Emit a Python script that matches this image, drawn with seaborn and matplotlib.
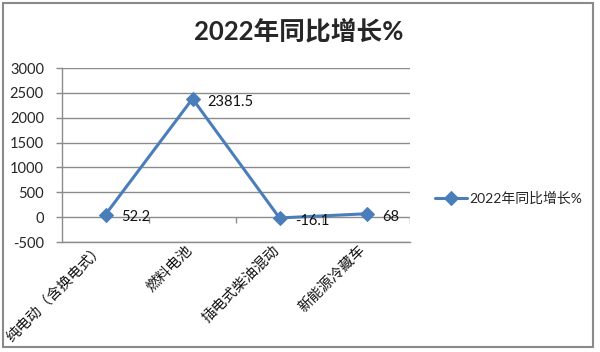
import matplotlib
matplotlib.use("Agg")
import matplotlib.pyplot as plt
import seaborn as sns
import pandas as pd
from matplotlib.patches import Rectangle

categories = ["纯电动（含换电式）", "燃料电池", "插电式柴油混动", "新能源冷藏车"]
values = [52.2, 2381.5, -16.1, 68]
labels = ["52.2", "2381.5", "-16.1", "68"]
series_name = "2022年同比增长%"
title = "2022年同比增长%"
yticks = [-500, 0, 500, 1000, 1500, 2000, 2500, 3000]

sns.set_style("white")
plt.rcParams["font.family"] = ["Lato", "Noto Sans CJK SC", "DejaVu Sans"]

df = pd.DataFrame({"cat": categories, "val": values, "series": series_name})

fig = plt.figure(figsize=(6.0, 3.52), dpi=100)
ax = fig.add_axes([62 / 600, 1 - 242 / 352, 348 / 600, 174 / 352])

blue = "#4A7EBB"
grid_c = "#8C8C8C"

sns.lineplot(data=df, x="cat", y="val", hue="series", palette=[blue], marker="D",
             markersize=7, linewidth=2.2, markeredgecolor=blue, sort=False, ax=ax,
             legend=True)

ax.set_xlim(-0.5, len(categories) - 0.5)
ax.set_ylim(-500, 3000)
ax.set_yticks(yticks)
ax.set_yticklabels([str(t) for t in yticks], fontsize=10.5)
for t in yticks:
    ax.axhline(t, color=grid_c, lw=1.0, zorder=0)

# category boundary ticks on the zero line
bounds = [i + 0.5 for i in range(len(categories))]
ax.vlines(bounds, -110, 0, color=grid_c, lw=1.0, zorder=0)

ax.set_xticks(range(len(categories)))
ax.set_xticklabels([])
for i, c in enumerate(categories):
    ax.annotate(c, xy=(i, -500), xycoords="data", xytext=(-2, -4),
                textcoords="offset points", rotation=45, rotation_mode="anchor",
                ha="right", va="center", fontsize=10.5,
                family=["Noto Sans CJK SC", "DejaVu Sans"], color="#111111")

ax.tick_params(axis="x", length=0)
ax.tick_params(axis="y", length=4, width=1.0, color=grid_c, direction="out", pad=9)
ax.yaxis.set_ticks_position("left")

for side in ["top", "right"]:
    ax.spines[side].set_visible(False)
ax.spines["left"].set_color(grid_c)
ax.spines["bottom"].set_color(grid_c)
ax.spines["left"].set_linewidth(1.0)
ax.spines["bottom"].set_linewidth(1.0)
ax.set_xlabel("")
ax.set_ylabel("")

for i, (v, lab) in enumerate(zip(values, labels)):
    ax.annotate(lab, xy=(i, v), xytext=(11, -2), textcoords="offset points",
                ha="left", va="center", fontsize=10.5, color="#111111")

leg = ax.legend(loc="center left", bbox_to_anchor=(1.035, 0.253), frameon=False,
                handlelength=2.3, handletextpad=0.2,
                prop={"family": ["Lato", "Noto Sans CJK SC"], "size": 10})

fig.text(0.497, 1 - 31 / 352, title, ha="center", va="center", fontsize=18.5,
         fontweight="bold", family=["Lato", "Noto Sans CJK SC"])

fig.add_artist(Rectangle((3 / 600, 1 - 347 / 352), 590 / 600, 344 / 352,
                         transform=fig.transFigure, fill=False,
                         edgecolor="#8A8A8A", lw=1.5))

fig.savefig("out.png", dpi=100)
